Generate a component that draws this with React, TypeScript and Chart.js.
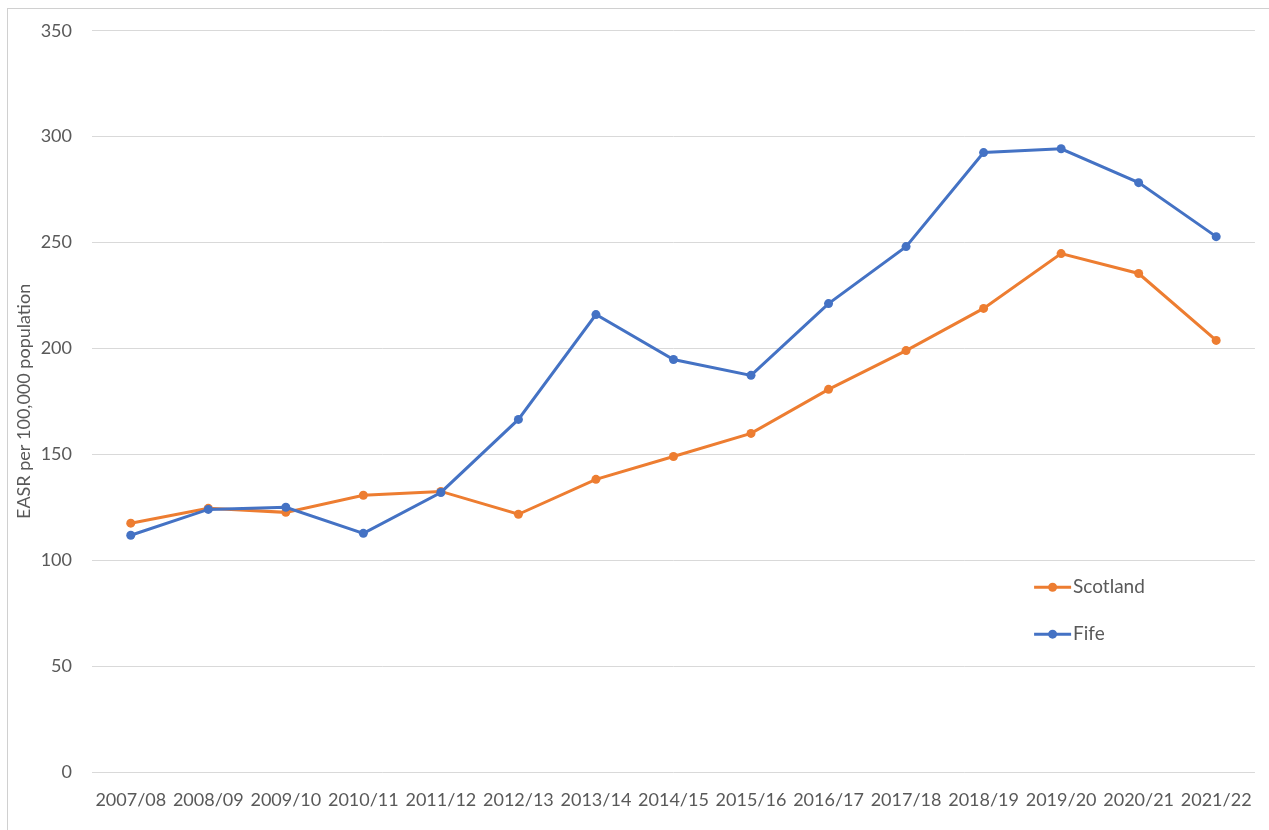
import React, { useEffect, useRef } from "react";
import { Chart, registerables } from "chart.js";

Chart.register(...registerables);

const years = [
  "2007/08", "2008/09", "2009/10", "2010/11", "2011/12", "2012/13", "2013/14", "2014/15",
  "2015/16", "2016/17", "2017/18", "2018/19", "2019/20", "2020/21", "2021/22",
];

const scotland = [117.5, 124.5, 122.6, 130.7, 132.5, 121.7, 138.2, 149.0, 159.9, 180.7, 199.0, 218.9, 244.8, 235.4, 203.8];
const fife = [111.8, 124.0, 125.0, 112.7, 132.0, 166.5, 216.0, 194.8, 187.3, 221.2, 248.1, 292.5, 294.3, 278.3, 252.8];

const yTicks = [0, 50, 100, 150, 200, 250, 300, 350];

const ORANGE = "#ED7D31";
const BLUE = "#4472C4";
const TEXT = "#595959";
const FONT = "Lato, 'Open Sans', sans-serif";

// Legend drawn inside the plot, lower right: short line with a marker, then the name
const insideLegend = {
  id: "insideLegend",
  afterDraw(chart: Chart) {
    const { ctx, chartArea } = chart;
    const w = chartArea.right - chartArea.left;
    const h = chartArea.bottom - chartArea.top;
    const x0 = chartArea.left + w * 0.8101;
    const items = [
      { label: "Scotland", color: ORANGE, y: chartArea.top + h * 0.7507 },
      { label: "Fife", color: BLUE, y: chartArea.top + h * 0.814 },
    ];
    ctx.save();
    for (const it of items) {
      ctx.strokeStyle = it.color;
      ctx.lineWidth = 3;
      ctx.beginPath();
      ctx.moveTo(x0, it.y);
      ctx.lineTo(x0 + 37, it.y);
      ctx.stroke();
      ctx.fillStyle = it.color;
      ctx.beginPath();
      ctx.arc(x0 + 18.5, it.y, 4.5, 0, Math.PI * 2);
      ctx.fill();
      ctx.fillStyle = TEXT;
      ctx.font = `19px ${FONT}`;
      ctx.textBaseline = "middle";
      ctx.textAlign = "left";
      ctx.fillText(it.label, x0 + 39, it.y);
    }
    ctx.restore();
  },
};

export default function App() {
  const canvasRef = useRef<HTMLCanvasElement | null>(null);

  useEffect(() => {
    if (!canvasRef.current) return;
    const chart = new Chart(canvasRef.current, {
      type: "line",
      data: {
        labels: years,
        datasets: [
          {
            label: "Fife",
            data: fife,
            borderColor: BLUE,
            backgroundColor: BLUE,
            borderWidth: 3,
            pointRadius: 4.5,
            pointBorderWidth: 0,
            pointBackgroundColor: BLUE,
            tension: 0,
          },
          {
            label: "Scotland",
            data: scotland,
            borderColor: ORANGE,
            backgroundColor: ORANGE,
            borderWidth: 3,
            pointRadius: 4.5,
            pointBorderWidth: 0,
            pointBackgroundColor: ORANGE,
            tension: 0,
          },
        ],
      },
      options: {
        animation: false,
        responsive: false,
        maintainAspectRatio: false,
        layout: { padding: { left: 13, top: 30, right: 13, bottom: 0 } },
        plugins: {
          legend: { display: false },
          tooltip: { enabled: false },
        },
        scales: {
          x: {
            offset: true,
            grid: { display: false, drawTicks: false },
            border: { display: false },
            ticks: {
              color: TEXT,
              font: { family: FONT, size: 18 },
              padding: 17,
              maxRotation: 0,
              autoSkip: false,
            },
            afterFit(scale: any) {
              scale.height = 58;
            },
          },
          y: {
            min: 0,
            max: 350,
            afterBuildTicks(scale: any) {
              scale.ticks = yTicks.map((v) => ({ value: v }));
            },
            grid: { color: "#d9d9d9", lineWidth: 1, drawTicks: false },
            border: { display: false },
            ticks: {
              color: TEXT,
              font: { family: FONT, size: 18 },
              padding: 20,
            },
            title: {
              display: true,
              text: "EASR per 100,000 population",
              color: TEXT,
              font: { family: FONT, size: 18 },
              padding: { top: 0, bottom: 0 },
            },
            afterFit(scale: any) {
              scale.width = 79;
            },
          },
        },
      },
      plugins: [insideLegend],
    });
    return () => chart.destroy();
  }, []);

  return (
    <div
      style={{
        position: "absolute",
        left: 0,
        top: 0,
        width: 1269,
        height: 830,
        background: "#fff",
      }}
    >
      <div
        style={{
          position: "absolute",
          left: 7,
          top: 8,
          right: 0,
          bottom: 0,
          borderLeft: "1px solid #d0d0d0",
          borderTop: "1px solid #d0d0d0",
        }}
      />
      <canvas
        ref={canvasRef}
        width={1269}
        height={830}
        style={{ position: "absolute", left: 0, top: 0, width: 1269, height: 830 }}
      />
    </div>
  );
}
